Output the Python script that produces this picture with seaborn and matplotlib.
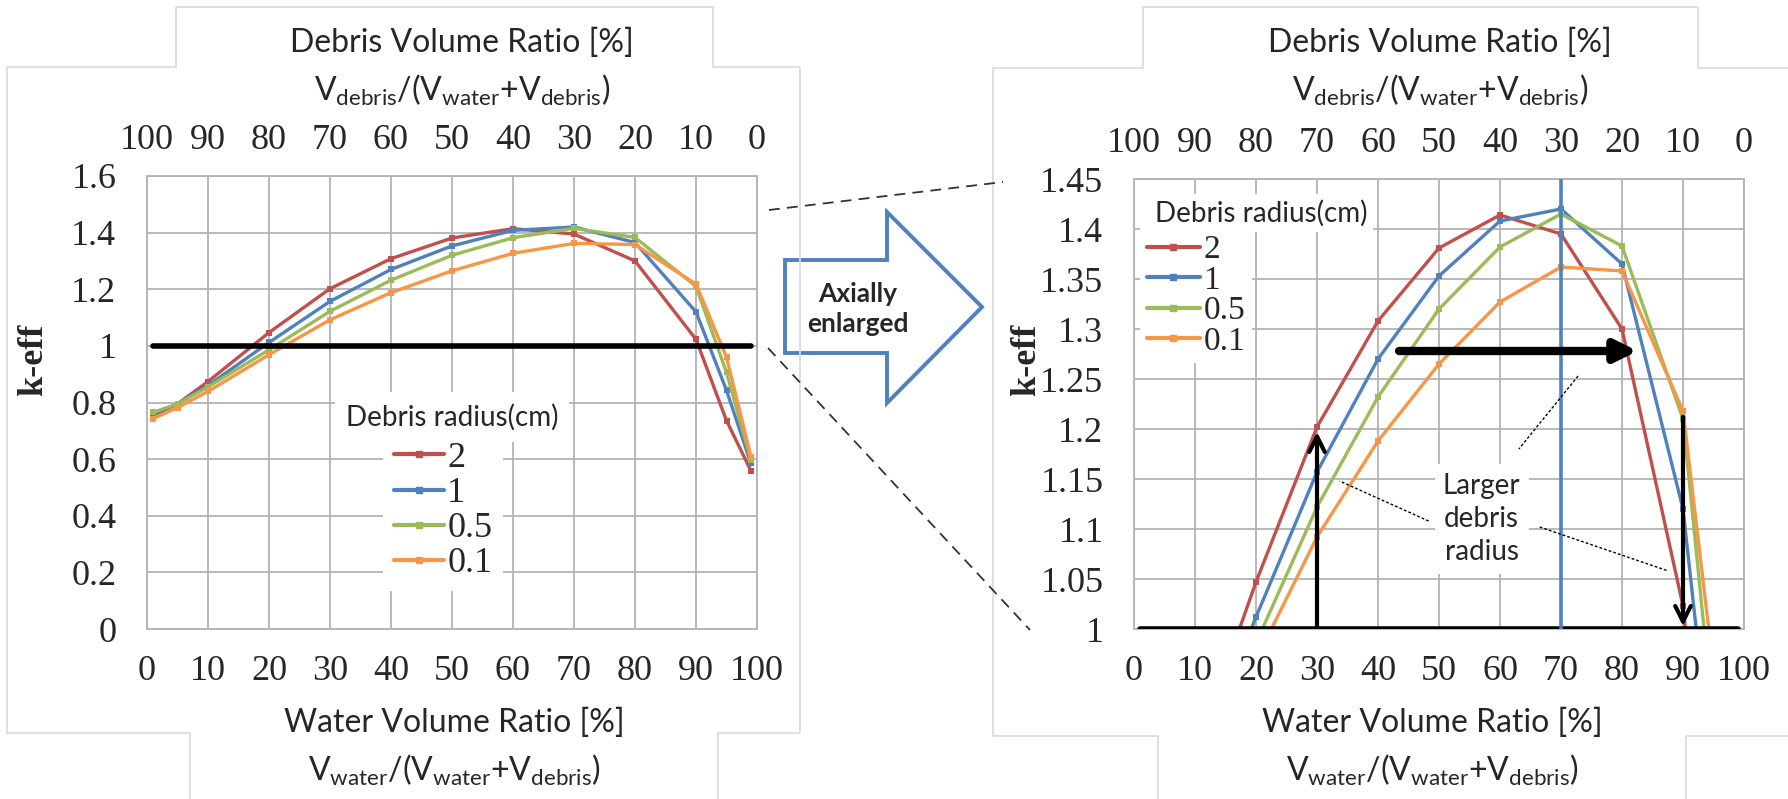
import matplotlib
matplotlib.use("Agg")
import matplotlib.pyplot as plt
from matplotlib.lines import Line2D
from matplotlib.patches import Polygon
import seaborn as sns
import pandas as pd

# water volume ratio (%) and k-eff for each debris radius (cm)
water_pct = [1, 5, 10, 20, 30, 40, 50, 60, 70, 80, 90, 95, 99]
radii = ["2", "1", "0.5", "0.1"]
keff_r2 = [0.755, 0.795, 0.874, 1.047, 1.202, 1.308, 1.381, 1.414, 1.395, 1.300, 1.023, 0.736, 0.559]
keff_r1 = [0.760, 0.795, 0.860, 1.012, 1.157, 1.270, 1.353, 1.408, 1.420, 1.365, 1.120, 0.843, 0.585]
keff_r05 = [0.765, 0.795, 0.855, 0.986, 1.122, 1.232, 1.320, 1.382, 1.415, 1.383, 1.210, 0.906, 0.598]
keff_r01 = [0.743, 0.782, 0.839, 0.969, 1.092, 1.188, 1.265, 1.327, 1.362, 1.358, 1.218, 0.960, 0.609]
colors = ["#C0504D", "#4F81BD", "#9BBB59", "#F79646"]

x_ticks = list(range(0, 101, 10))
left_yticks = [0, 0.2, 0.4, 0.6, 0.8, 1.0, 1.2, 1.4, 1.6]
right_yticks = [1.0, 1.05, 1.1, 1.15, 1.2, 1.25, 1.3, 1.35, 1.4, 1.45]
critical_keff = 1.0
peak_water = 70

df = pd.DataFrame({
    "water": water_pct * 4,
    "keff": keff_r2 + keff_r1 + keff_r05 + keff_r01,
    "radius": [r for r in radii for _ in water_pct],
})

W, H = 1788, 799
sns.set_style("white")
SANS = "Lato"
SERIF = "Liberation Serif"
plt.rcParams["font.family"] = [SERIF, "DejaVu Serif"]
plt.rcParams["mathtext.fontset"] = "custom"
plt.rcParams["mathtext.rm"] = SANS
plt.rcParams["mathtext.it"] = SANS

GRID = "#b3b3b3"


def px(x, y):
    return x / W, 1 - y / H


fig = plt.figure(figsize=(W / 100, H / 100), dpi=100)


def draw_panel(rect, ylim, yticks, leg_size, leg_anchor, leg_kw):
    ax = fig.add_axes(rect)
    sns.lineplot(data=df, x="water", y="keff", hue="radius", hue_order=radii,
                 palette=colors, marker="s", markersize=4, markeredgewidth=0,
                 linewidth=2.4, legend=False, ax=ax, zorder=3)
    ax.axhline(critical_keff, xmin=0.01, xmax=0.99, color="black", lw=4, zorder=4)
    ax.set_xlim(0, 100)
    ax.set_ylim(*ylim)
    ax.set_xticks(x_ticks)
    ax.set_yticks(yticks)
    ax.set_yticklabels([f"{v:g}" for v in yticks])
    ax.grid(True, color=GRID, lw=1.3)
    for s in ax.spines.values():
        s.set_color(GRID)
        s.set_linewidth(1.3)
    ax.tick_params(axis="x", length=0, pad=19, labelsize=26)
    ax.tick_params(axis="y", length=0, pad=22, labelsize=26)
    ax.set_xlabel("")
    ax.set_ylabel("")
    sec = ax.secondary_xaxis("top", functions=(lambda x: 100 - x, lambda x: 100 - x))
    sec.set_xticks(x_ticks)
    sec.tick_params(length=0, pad=14, labelsize=26)
    sec.spines["top"].set_visible(False)

    handles = [Line2D([], [], color=c, lw=3, marker="s", markersize=4) for c in colors]
    leg = ax.legend(handles, radii, loc="upper left", bbox_to_anchor=px(*leg_anchor),
                    bbox_transform=fig.transFigure, frameon=True, facecolor="white",
                    edgecolor="none", framealpha=1, fancybox=False, handletextpad=0.1,
                    borderaxespad=0, prop={"family": SERIF, "size": leg_size}, **leg_kw)
    leg.set_zorder(5)
    return ax


ax1 = draw_panel([147 / W, 1 - 629 / H, 610 / W, 453 / H], (0, 1.6), left_yticks,
                 26, (383, 431), dict(labelspacing=0.05, borderpad=0.3, handlelength=1.38))
ax2 = draw_panel([1134 / W, 1 - 629 / H, 610 / W, 450 / H], (1.0, 1.45), right_yticks,
                 24, (1140, 228), dict(labelspacing=0.0, borderpad=0.2, handlelength=1.6))

# legend titles
fig.text(*px(452, 417), "Debris radius(cm)", family=SANS, fontsize=20, ha="center",
         va="center", zorder=6, bbox=dict(facecolor="white", edgecolor="none", pad=8))
fig.text(*px(1155, 213), "Debris radius(cm)", family=SANS, fontsize=20, ha="left",
         va="center", zorder=6, bbox=dict(facecolor="white", edgecolor="none", pad=4))

# right panel annotations
ax2.axvline(peak_water, color=colors[1], lw=2.6, zorder=4)
ax2.annotate("", xy=(30, 1.2), xytext=(30, 1.0),
             arrowprops=dict(arrowstyle="->", lw=3, color="black", mutation_scale=28), zorder=6)
ax2.annotate("", xy=(90, 1.0), xytext=(90, 1.215),
             arrowprops=dict(arrowstyle="->", lw=3, color="black", mutation_scale=28), zorder=6)
ax2.annotate("", xy=(83, 1.278), xytext=(43, 1.278),
             arrowprops=dict(arrowstyle="-|>", lw=6, color="black", mutation_scale=32), zorder=6)
ax2.text(57, 1.11, "Larger\ndebris\nradius", family=SANS, fontsize=20, ha="center",
         va="center", linespacing=1.35, zorder=5,
         bbox=dict(facecolor="white", edgecolor="none", pad=6))
for xs, ys in [((48.3, 33.7), (1.108, 1.148)), ((66.5, 87.6), (1.102, 1.058)),
               ((72.8, 63.1), (1.253, 1.18))]:
    ax2.plot(xs, ys, color="black", lw=1, ls=(0, (2, 1.5)), zorder=6)

# axis titles
for cx in (462, 1440):
    fig.text(*px(cx, 43), "Debris Volume Ratio [%]", family=SANS, fontsize=23,
             ha="center", va="center")
    fig.text(*px(cx, 90), r"V$_\mathrm{debris}$/(V$_\mathrm{water}$+V$_\mathrm{debris}$)",
             family=SANS, fontsize=23, ha="center", va="center")
    fig.text(*px(cx - 8, 723), "Water Volume Ratio [%]", family=SANS, fontsize=23,
             ha="center", va="center")
    fig.text(*px(cx - 8, 770), r"V$_\mathrm{water}$/(V$_\mathrm{water}$+V$_\mathrm{debris}$)",
             family=SANS, fontsize=23, ha="center", va="center")
for cx in (34, 1027):
    fig.text(*px(cx, 360), "k-eff", family=SERIF, fontsize=26, weight="bold",
             rotation=90, ha="center", va="center")

# light chart-area outlines
outline = "#d9d9d9"
for pts in [
    [(7, 733), (7, 67), (176, 67), (176, 7), (713, 7), (713, 67), (800, 67), (800, 733),
     (718, 733), (718, 799)],
    [(190, 799), (190, 733), (7, 733)],
    [(1788, 68), (1698, 68), (1698, 7), (1143, 7), (1143, 68), (993, 68), (993, 736),
     (1158, 736), (1158, 799)],
    [(1686, 799), (1686, 736), (1788, 736)],
]:
    xs, ys = zip(*[px(x, y) for x, y in pts])
    fig.add_artist(Line2D(xs, ys, color=outline, lw=1.2))

# zoom guide lines
for (x0, y0), (x1, y1) in [((769, 210), (1003, 182)), ((768, 348), (1030, 630))]:
    fig.add_artist(Line2D([x0 / W, x1 / W], [1 - y0 / H, 1 - y1 / H], color="#333333",
                          lw=1.3, ls=(0, (6, 4))))

# block arrow
arrow_pts = [(785, 260), (887, 260), (887, 212), (982, 307), (887, 403), (887, 353), (785, 353)]
fig.add_artist(Polygon([px(x, y) for x, y in arrow_pts], closed=True, facecolor="white",
                       edgecolor=colors[1], lw=2.8, transform=fig.transFigure))
fig.text(*px(858, 309), "Axially\nenlarged", family=SANS, fontsize=19, weight="bold",
         ha="center", va="center", linespacing=1.3)

fig.savefig("out.png", dpi=100)
